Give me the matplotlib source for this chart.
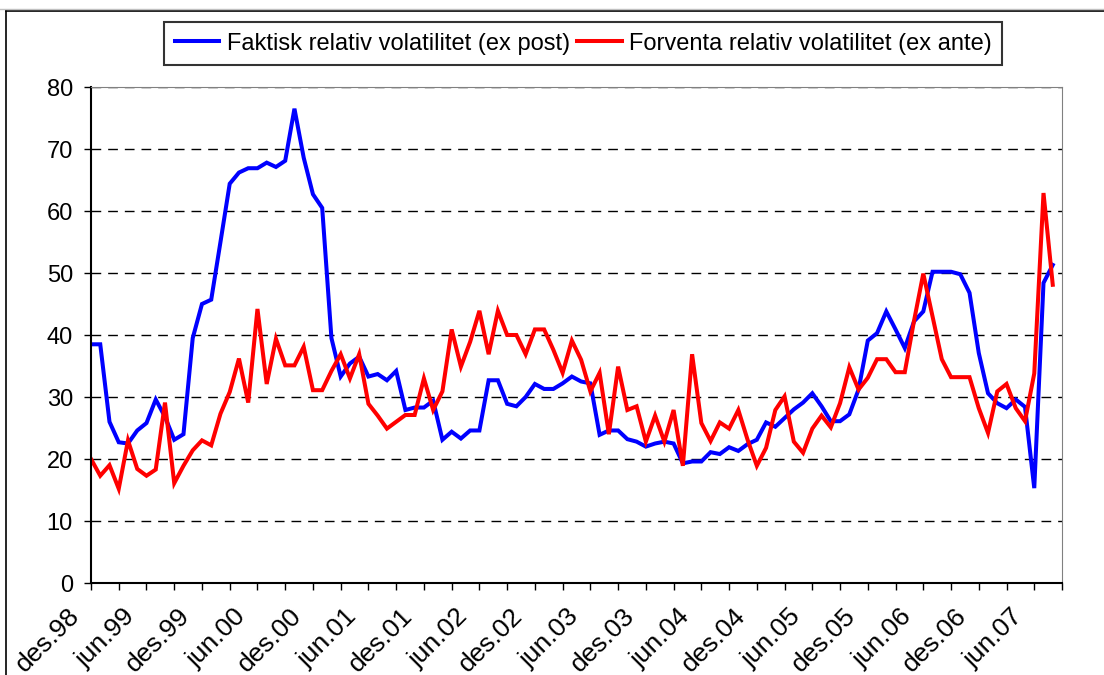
import matplotlib
matplotlib.use('Agg')
from matplotlib import pyplot as plt
from matplotlib.lines import Line2D
from matplotlib.transforms import ScaledTranslation

# monthly observations, des.98 .. aug.07
faktisk = [38.5, 38.5, 26.0, 22.7, 22.5, 24.6, 25.8, 29.6, 26.8, 23.1,
           24.0, 39.5, 45.0, 45.7, 55.0, 64.4, 66.2, 66.9, 66.9, 67.8,
           67.1, 68.1, 76.5, 68.6, 62.7, 60.5, 39.5, 33.3, 35.4, 36.5,
           33.3, 33.7, 32.7, 34.2, 27.9, 28.3, 28.3, 29.4, 23.1, 24.4,
           23.3, 24.6, 24.6, 32.7, 32.7, 28.9, 28.5, 30.0, 32.1, 31.3,
           31.3, 32.2, 33.3, 32.5, 32.2, 23.9, 24.6, 24.6, 23.2, 22.8,
           22.0, 22.5, 22.8, 22.5, 19.3, 19.6, 19.6, 21.1, 20.8, 21.9,
           21.3, 22.4, 23.1, 25.9, 25.2, 26.6, 28.0, 29.1, 30.6, 28.5,
           26.1, 26.1, 27.2, 31.2, 39.1, 40.3, 43.8, 40.9, 37.9, 42.2,
           43.8, 50.2, 50.2, 50.2, 49.8, 46.8, 37.1, 30.6, 29.0, 28.2,
           29.6, 28.4, 15.3, 48.4, 51.3]

forventa = [20.0, 17.3, 19.0, 15.2, 23.0, 18.4, 17.3, 18.3, 29.1, 16.1,
            18.9, 21.4, 23.0, 22.2, 27.3, 30.8, 36.2, 29.1, 44.2, 32.1,
            39.4, 35.1, 35.1, 38.1, 31.1, 31.1, 34.2, 36.9, 33.0, 36.9,
            28.9, 27.0, 24.9, 26.0, 27.1, 27.1, 33.0, 27.9, 30.9, 40.9,
            34.9, 38.9, 43.9, 36.9, 43.9, 40.0, 40.0, 36.9, 40.9, 40.9,
            37.6, 33.9, 39.1, 36.0, 30.9, 33.9, 24.0, 34.9, 27.9, 28.5,
            22.8, 27.0, 22.8, 27.9, 18.9, 36.9, 25.8, 22.9, 25.9, 24.9,
            27.9, 23.1, 18.9, 21.8, 27.9, 30.1, 22.8, 21.0, 24.9, 27.0,
            25.1, 29.0, 34.8, 31.2, 33.1, 36.1, 36.1, 34.0, 34.0, 42.3,
            49.9, 43.0, 36.1, 33.2, 33.2, 33.2, 28.2, 24.2, 30.9, 32.1,
            28.2, 26.1, 33.8, 62.9, 48.1]

x_labels = ['des.98', 'jun.99', 'des.99', 'jun.00', 'des.00', 'jun.01',
            'des.01', 'jun.02', 'des.02', 'jun.03', 'des.03', 'jun.04',
            'des.04', 'jun.05', 'des.05', 'jun.06', 'des.06', 'jun.07']

plt.rcParams['font.family'] = ['Liberation Sans', 'DejaVu Sans']

fig = plt.figure(figsize=(11.04, 6.75), dpi=100)
ax = fig.add_axes([91 / 1104, 1 - 583 / 675, (1062 - 91) / 1104, (583 - 87) / 675])

months = list(range(len(faktisk)))
ax.plot(months, faktisk, color='#0000FF', lw=2.9, solid_joinstyle='miter',
        label='Faktisk relativ volatilitet (ex post)')
ax.plot(months, forventa, color='#FF0000', lw=2.9, solid_joinstyle='miter',
        label='Forventa relativ volatilitet (ex ante)')

ax.set_xlim(0, 105)
ax.set_ylim(0, 80)
ax.set_yticks(range(0, 81, 10))
ax.set_xticks(range(0, 103, 6))
ax.set_xticklabels(x_labels, rotation=45, ha='right', va='top',
                   rotation_mode='anchor', fontsize=19)
ax.set_xticks(range(3, 106, 6), minor=True)
ax.tick_params(axis='y', labelsize=17, length=5, width=1, pad=8)
ax.tick_params(axis='x', which='both', length=5, width=1, pad=10)

# nudge the slanted date labels to the left, like the original
shift = ScaledTranslation(-24 / 100, 0, fig.dpi_scale_trans)
for lab in ax.get_xticklabels():
    lab.set_transform(lab.get_transform() + shift)

for v in range(10, 81, 10):
    ax.axhline(v, color='#000000', lw=1, ls=(0, (7, 5)), zorder=0)

for side in ['top', 'right']:
    ax.spines[side].set_color('#808080')
for side in ['left', 'bottom']:
    ax.spines[side].set_linewidth(1.5)

leg = ax.legend(loc='upper center', ncol=2, bbox_to_anchor=(583 / 1104, 1 - 22 / 675),
                bbox_transform=fig.transFigure, fontsize=17, frameon=True, fancybox=False,
                edgecolor='black', handlelength=1.9, columnspacing=0.3,
                handletextpad=0.3, borderpad=0.45, borderaxespad=0)
leg.get_frame().set_linewidth(1.5)

# outer chart border
fig.add_artist(Line2D([6 / 1104, 6 / 1104], [0, 1 - 11 / 675], color='black', lw=1.2,
                      transform=fig.transFigure))
fig.add_artist(Line2D([6 / 1104, 1], [1 - 11 / 675, 1 - 11 / 675], color='black', lw=1.2,
                      transform=fig.transFigure))
fig.add_artist(Line2D([0, 1], [1 - 9 / 675, 1 - 9 / 675], color='#C0C0C0', lw=1,
                      transform=fig.transFigure))

fig.savefig('out.png', dpi=100)
